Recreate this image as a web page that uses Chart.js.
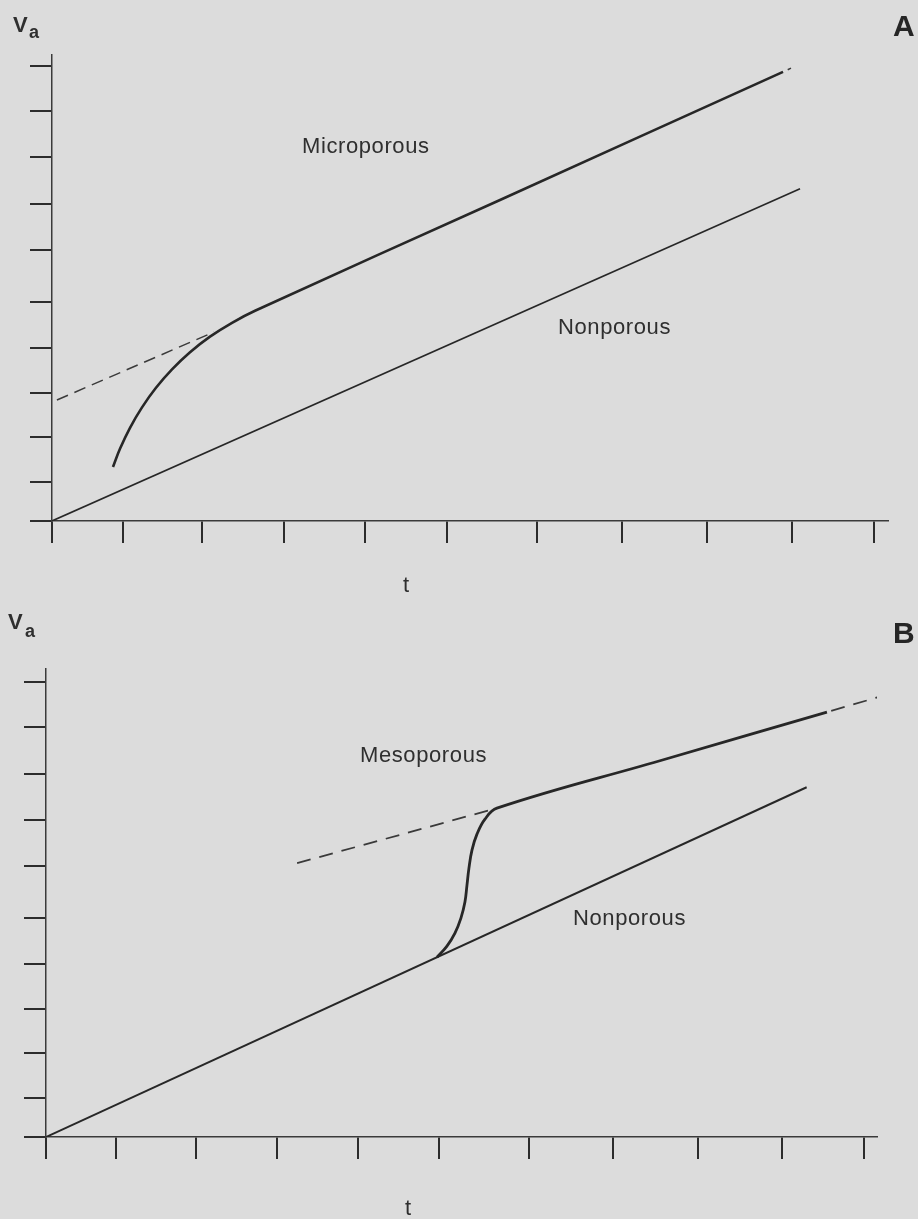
<!DOCTYPE html>
<html>
<head>
<meta charset="utf-8">
<title>Adsorption t-plots</title>
<script src="https://cdn.jsdelivr.net/npm/chart.js@4.4.0/dist/chart.umd.min.js"></script>
<style>
  html, body { margin: 0; padding: 0; background: #dcdcdc; }
  #page {
    position: relative;
    width: 918px;
    height: 1219px;
    overflow: hidden;
    font-family: "Liberation Sans", Arial, sans-serif;
    color: #2f2f2f;
  }
  canvas { position: absolute; left: 0; }
  .lbl { position: absolute; line-height: 1; white-space: nowrap; }
  .ax { font-size: 22px; font-weight: bold; }
  .sub { font-size: 18px; font-weight: bold; }
  .panel { font-size: 30px; font-weight: bold; color: #262626; }
  .curve { font-size: 22px; letter-spacing: 0.6px; }
  .t { font-size: 22px; }
</style>
</head>
<body>
<div id="page">
  <canvas id="chartA" width="918" height="600" style="top:0"></canvas>
  <canvas id="chartB" width="918" height="619" style="top:600px"></canvas>

  <!-- painel A -->
  <div class="lbl ax" style="left:13px;top:14px">V</div>
  <div class="lbl sub" style="left:29px;top:23px">a</div>
  <div class="lbl panel" style="left:893px;top:11px">A</div>
  <div class="lbl curve" style="left:302px;top:135px">Microporous</div>
  <div class="lbl curve" style="left:558px;top:316px">Nonporous</div>
  <div class="lbl t" style="left:403px;top:574px">t</div>

  <!-- painel B -->
  <div class="lbl ax" style="left:8px;top:611px">V</div>
  <div class="lbl sub" style="left:25px;top:622px">a</div>
  <div class="lbl panel" style="left:893px;top:618px">B</div>
  <div class="lbl curve" style="left:360px;top:744px">Mesoporous</div>
  <div class="lbl curve" style="left:573px;top:907px">Nonporous</div>
  <div class="lbl t" style="left:405px;top:1197px">t</div>
</div>

<script>
// posições dos traços dos eixos (desenhados à mão, espaçamento irregular)
const ticksT = [0, 0.86, 1.83, 2.82, 3.81, 4.80, 5.90, 6.93, 7.97, 9.0, 10];
const ticksV = [0, 0.86, 1.85, 2.82, 3.80, 4.81, 5.95, 6.97, 7.99, 9.01, 10];

// A - sólido não poroso
const tNonA = [0, 9.10];
const vNonA = [0, 7.30];

// A - sólido microporoso (joelho côncavo e depois reta)
const tMicro = [0.742, 0.827, 0.949, 1.095, 1.265, 1.460, 1.679, 1.922, 2.190, 2.470, 5.450, 8.893];
const vMicro = [1.187, 1.587, 2.048, 2.497, 2.927, 3.332, 3.708, 4.051, 4.356, 4.620, 7.055, 9.868];

// A - extrapolação (tracejada), null separa os dois trechos
const tExtA = [0.06, 1.971, 1.971, 8.95, 8.99];
const vExtA = [2.659, 4.154, null, 9.915, 9.95];

// B - sólido não poroso
const tNonB = [0, 9.30];
const vNonB = [0, 7.69];

// B - sólido mesoporoso (degrau em S)
const tMeso = [4.780, 4.902, 5.000, 5.073, 5.122, 5.147, 5.171, 5.208, 5.269, 5.367, 5.513, 7.506, 9.548];
const vMeso = [3.952, 4.198, 4.484, 4.813, 5.165, 5.538, 5.912, 6.308, 6.659, 6.989, 7.231, 8.273, 9.341];

// B - extrapolação (tracejada)
const tExtB = [3.07, 5.51, 5.51, 9.60, 10.23];
const vExtB = [6.02, 7.23, null, 9.37, 9.70];

const INK = '#272727';

function pts(xs, ys) {
  return xs.map((x, i) => ({ x: x, y: ys[i] }));
}

function linha(xs, ys, largura, extra) {
  return Object.assign({
    data: pts(xs, ys),
    borderColor: INK,
    borderWidth: largura,
    pointRadius: 0,
    fill: false,
    spanGaps: false,
    tension: 0
  }, extra || {});
}

function eixo(max, marcas) {
  return {
    type: 'linear',
    min: 0,
    max: max,
    afterBuildTicks: scale => {
      scale.ticks = marcas.map(v => ({ value: v }));
    },
    ticks: { display: false },
    grid: {
      drawOnChartArea: false,
      drawTicks: true,
      tickLength: 22,
      color: '#2c2c2c',
      lineWidth: 2
    },
    border: { display: true, color: '#3a3a3a', width: 1.5 }
  };
}

function painel(id, datasets, maxT, maxV, padding) {
  new Chart(document.getElementById(id), {
    type: 'line',
    data: { datasets: datasets },
    options: {
      responsive: false,
      animation: false,
      devicePixelRatio: 1,
      layout: { padding: padding },
      plugins: {
        legend: { display: false },
        tooltip: { enabled: false }
      },
      scales: {
        x: eixo(maxT, ticksT),
        y: eixo(maxV, ticksV)
      }
    }
  });
}

painel('chartA', [
  linha(tNonA, vNonA, 1.6),
  linha(tMicro, vMicro, 2.6, { tension: 0.4 }),
  linha(tExtA, vExtA, 1.5, { borderDash: [12, 7], borderColor: '#3a3a3a' })
], 10.17, 10.24, { left: 30, right: 30, top: 55, bottom: 57 });

painel('chartB', [
  linha(tNonB, vNonB, 2),
  linha(tMeso, vMeso, 2.8, { tension: 0.4 }),
  linha(tExtB, vExtB, 1.8, { borderDash: [14, 9], borderColor: '#3a3a3a' })
], 10.16, 10.29, { left: 24, right: 41, top: 69, bottom: 60 });
</script>
</body>
</html>
